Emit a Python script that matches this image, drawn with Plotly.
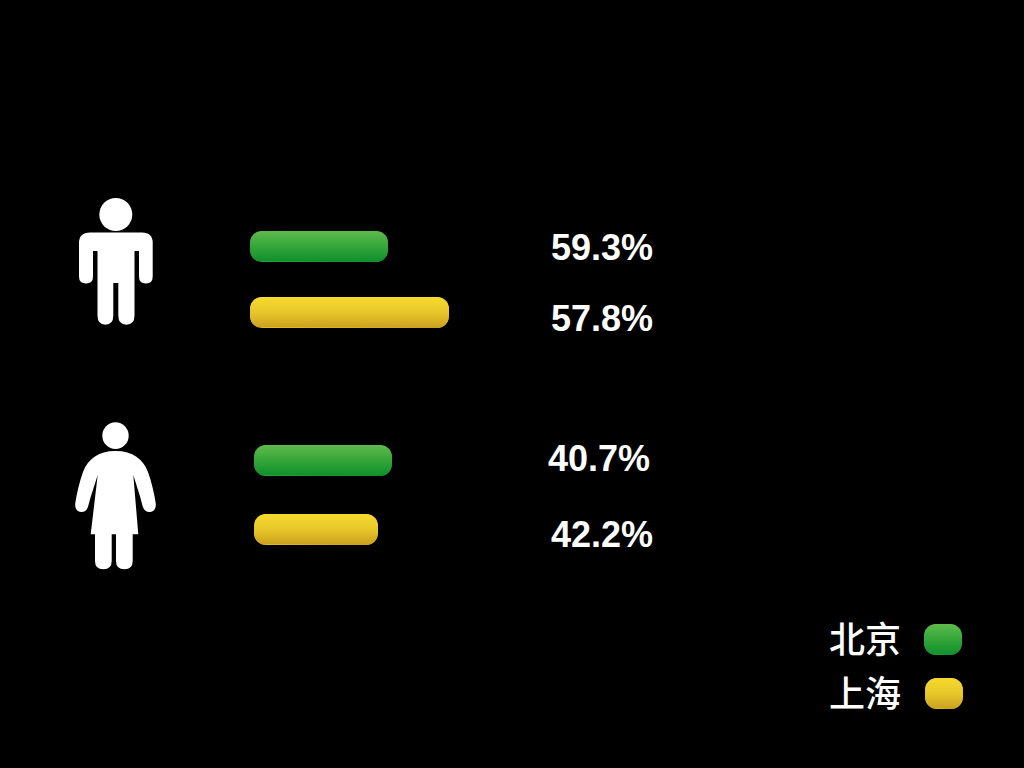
import numpy as np
import plotly.graph_objects as go

# ---- data ----
groups = ["男", "女"]
beijing_pct = [59.3, 40.7]
shanghai_pct = [57.8, 42.2]
beijing_bar = [138, 138]
shanghai_bar = [199, 124]
legend_names = ["北京", "上海"]

# ---- layout constants (pixel-scale axes) ----
W, H = 1024, 768
BAR_H, RADIUS = 31, 12
GREEN = [[0, "#5fba4c"], [0.5, "#35a63a"], [1, "#0e8f2c"]]
YELLOW = [[0, "#f6da2e"], [0.5, "#e8c62a"], [1, "#c9a020"]]
GREEN_MID, YELLOW_MID = "#35a63a", "#e8c62a"


def rounded(x0, x1, yc, h=BAR_H, r=RADIUS):
    y0, y1 = yc - h / 2, yc + h / 2
    t = np.linspace(0, np.pi / 2, 10)
    xs = np.concatenate([x1 - r + r * np.sin(t), x1 - r + r * np.cos(t),
                         x0 + r - r * np.sin(t), x0 + r - r * np.cos(t)])
    ys = np.concatenate([y0 + r - r * np.cos(t), y1 - r + r * np.sin(t),
                         y1 - r + r * np.cos(t), y0 + r - r * np.sin(t)])
    return list(xs) + [xs[0]], list(ys) + [ys[0]]


fig = go.Figure()


def add_bar(name, start, length, yc, mid, scale):
    fig.add_trace(go.Bar(orientation="h", x=[length], y=[yc], base=[start], width=[BAR_H],
                         marker=dict(color=mid, line=dict(width=0), cornerradius=RADIUS),
                         name=name, showlegend=False, hoverinfo="skip"))
    xs, ys = rounded(start, start + length, yc)
    fig.add_trace(go.Scatter(x=xs, y=ys, mode="lines", fill="toself", line=dict(width=0),
                             fillgradient=dict(type="vertical", colorscale=scale,
                                               start=yc - BAR_H / 2, stop=yc + BAR_H / 2),
                             name=name, showlegend=False, hoverinfo="skip"))


starts = [250, 254]
bj_y = [246.5, 460.5]
sh_y = [312.5, 529.5]
for i in range(2):
    add_bar("北京", starts[i], beijing_bar[i], bj_y[i], GREEN_MID, GREEN)
    add_bar("上海", starts[i], shanghai_bar[i], sh_y[i], YELLOW_MID, YELLOW)

# legend swatches
add_bar("北京", 924, 38, 639.5, GREEN_MID, GREEN)
add_bar("上海", 925, 38, 693.5, YELLOW_MID, YELLOW)

# value labels
bj_label_pos = [(548.5, 247), (546, 458)]
sh_label_pos = [(548.5, 318), (548.5, 534)]
annos = []
for vals, pos in ((beijing_pct, bj_label_pos), (shanghai_pct, sh_label_pos)):
    for v, (x, y) in zip(vals, pos):
        annos.append(dict(x=x, y=y, text=f"{v:.1f}%", xref="x", yref="y", showarrow=False,
                          xanchor="left", yanchor="middle",
                          font=dict(family="Liberation Sans", size=36, color="white", weight="bold")))
for name, y in zip(legend_names, (637, 691)):
    annos.append(dict(x=903, y=y, text=name, xref="x", yref="y", showarrow=False,
                      xanchor="right", yanchor="middle",
                      font=dict(family="Noto Sans CJK SC", size=36, color="white", weight=500)))

# pictograms
MAN_BODY = ("M 90 232.5 L 142 232.5 Q 152.7 232.5 152.7 243 L 152.7 276.5 Q 152.7 283.5 146 283.5 "
            "Q 139 283.5 139 276.5 L 139 251 L 134.5 251 L 134.5 315.5 Q 134.5 324.7 126.4 324.7 "
            "Q 118.3 324.7 118.3 315.5 L 118.3 283 L 113.3 283 L 113.3 315.5 Q 113.3 324.7 105.4 324.7 "
            "Q 97.5 324.7 97.5 315.5 L 97.5 251 L 93 251 L 93 276.5 Q 93 283.5 86 283.5 "
            "Q 79 283.5 79 276.5 L 79 243 Q 79 232.5 90 232.5 Z")
WOMAN_BODY = ("M 115.5 451 C 133 451 143 459 148 472 C 151.5 482 154 492 155.7 503 "
              "C 156.5 509 153.5 512 149.5 512 C 145.5 512 143.5 509.5 142.3 505 "
              "C 140 495 136 484 133.3 475 L 138.3 534.3 L 132.7 534.3 L 132.7 561 "
              "Q 132.7 569.3 124.4 569.3 Q 116 569.3 116 561 L 116 534.3 L 111.7 534.3 L 111.7 561 "
              "Q 111.7 569.3 103.4 569.3 Q 95 569.3 95 561 L 95 534.3 L 90.7 534.3 L 97.7 475 "
              "C 95 484 91 495 88.5 505 C 87.5 509.5 85.5 512 81.5 512 C 77.5 512 74.5 509 75.3 503 "
              "C 77 492 79.5 482 83 472 C 88 459 98 451 115.5 451 Z")
shapes = [
    dict(type="circle", x0=99.3, x1=132.3, y0=198, y1=231, fillcolor="white", line_width=0),
    dict(type="path", path=MAN_BODY, fillcolor="white", line_width=0),
    dict(type="circle", x0=102.3, x1=128.7, y0=422.3, y1=449, fillcolor="white", line_width=0),
    dict(type="path", path=WOMAN_BODY, fillcolor="white", line_width=0),
]

fig.update_layout(
    width=W, height=H, margin=dict(l=0, r=0, t=0, b=0),
    paper_bgcolor="#000000", plot_bgcolor="#000000",
    xaxis=dict(range=[0, W], visible=False, fixedrange=True),
    yaxis=dict(range=[H, 0], visible=False, fixedrange=True),
    barmode="overlay", showlegend=False, annotations=annos, shapes=shapes,
)

fig.write_html("out.html", post_script="document.body.style.margin='0';document.body.style.background='#000';",
               config=dict(displayModeBar=False))
